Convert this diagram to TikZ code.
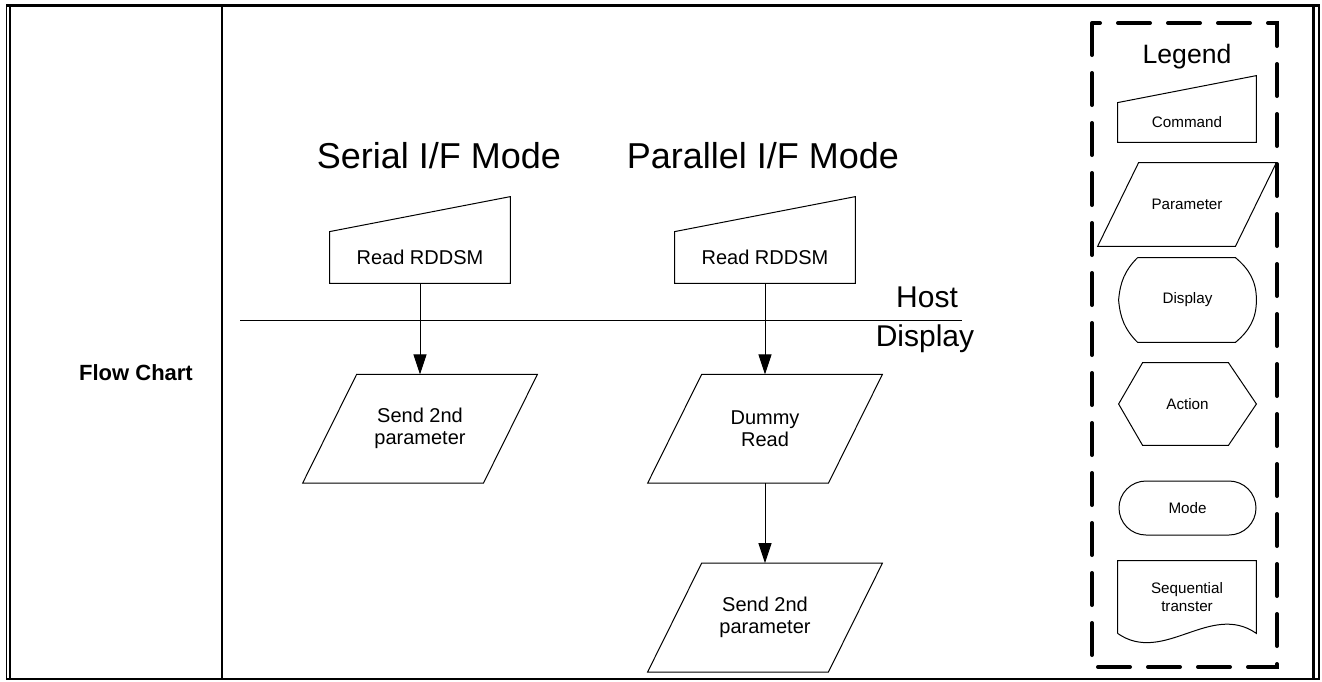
\documentclass[tikz,border=0pt]{standalone}
\usepackage{fontspec}
\setmainfont{Liberation Sans}
\usetikzlibrary{arrows.meta,positioning,shapes.misc}

\begin{document}
\begin{tikzpicture}[x=0.5pt, y=-0.5pt,
  every node/.style={align=center, inner sep=0pt, font=\fontsize{10}{11}\selectfont},
  outline/.style={draw, line width=0.5pt},
  flow/.style={-{Triangle[length=10pt, width=6.5pt]}, line width=0.5pt},
  small/.style={font=\fontsize{7.6}{9}\selectfont},
  cmdbox/.style n args={3}{minimum width=#1, minimum height=#2,
    append after command={\pgfextra{\draw[outline] (\tikzlastnode.south west) -- (\tikzlastnode.north west) -- ([yshift=#3]\tikzlastnode.north east) -- (\tikzlastnode.south east) -- cycle;}}},
  parambox/.style n args={3}{minimum width=#1, minimum height=#2,
    append after command={\pgfextra{\draw[outline] (\tikzlastnode.south west) -- ([xshift=-#3]\tikzlastnode.south east) -- (\tikzlastnode.north east) -- ([xshift=#3]\tikzlastnode.north west) -- cycle;}}},
  dispbox/.style={minimum width=68.5pt, minimum height=42pt,
    append after command={\pgfextra{\draw[outline] ([xshift=9.5pt]\tikzlastnode.north west) -- ([xshift=-10.5pt]\tikzlastnode.north east) to[out=-40,in=90] (\tikzlastnode.east) to[out=-90,in=40] ([xshift=-10.5pt]\tikzlastnode.south east) -- ([xshift=9.5pt]\tikzlastnode.south west) to[out=135,in=-85] (\tikzlastnode.west) to[out=85,in=-135] ([xshift=9.5pt]\tikzlastnode.north west);}}},
  actbox/.style={minimum width=68.5pt, minimum height=41pt,
    append after command={\pgfextra{\draw[outline] (\tikzlastnode.west) -- ([xshift=12pt]\tikzlastnode.north west) -- ([xshift=-14pt]\tikzlastnode.north east) -- (\tikzlastnode.east) -- ([xshift=-14pt]\tikzlastnode.south east) -- ([xshift=12pt]\tikzlastnode.south west) -- cycle;}}},
  modebox/.style={outline, rounded rectangle, minimum width=68.5pt, minimum height=27pt},
  docbox/.style={minimum width=69pt, minimum height=36pt,
    append after command={\pgfextra{\draw[outline] (\tikzlastnode.south west) -- (\tikzlastnode.north west) -- (\tikzlastnode.north east) -- (\tikzlastnode.south east) .. controls +(-23pt,16pt) and +(23pt,-16pt) .. (\tikzlastnode.south west);}}},
]
  \useasboundingbox (0,0) rectangle (1322,681);
  % table frame
  \draw[line width=1.5pt] (6,5.5) -- (1320,5.5);
  \draw[line width=0.9pt] (6.5,5) -- (6.5,680);
  \draw[line width=0.9pt] (10,5) -- (10,680);
  \draw[line width=1.3pt] (1313.5,5) -- (1313.5,680);
  \draw[line width=0.9pt] (1319,5) -- (1319,680);
  \draw[line width=1pt] (6,679.3) -- (1320,679.3);
  \draw[line width=1pt] (221.7,5) -- (221.7,679.3);
  \node[font=\bfseries\fontsize{11}{13}\selectfont] (fc) at (136,373) {Flow Chart};

  % modes
  \node[font=\fontsize{18}{21}\selectfont, anchor=base] (serial) at (439,168) {Serial I/F Mode};
  \node[font=\fontsize{18}{21}\selectfont, anchor=base] (parallel) at (763,168) {Parallel I/F Mode};
  \node[cmdbox={90pt}{25.5pt}{17.5pt}] (cmd1) at (420,257.5) {Read RDDSM};
  \node[cmdbox={90pt}{25.5pt}{17.5pt}] (cmd2) at (765,257.5) {Read RDDSM};
  \node[parambox={117pt}{54pt}{27pt}, below=45.5pt of cmd1] (par1) {Send 2nd\\parameter};
  \node[parambox={117pt}{54pt}{27pt}, below=45.5pt of cmd2] (dummy) {Dummy\\Read};
  \node[parambox={117pt}{54pt}{27pt}, below=40pt of dummy] (par3) {Send 2nd\\parameter};

  % host / display split
  \coordinate (splitL) at (240,320);
  \coordinate (splitR) at (962,320);
  \draw[outline] (splitL) -- (splitR);
  \node[font=\fontsize{15}{17}\selectfont, anchor=base] (host) at (927,307) {Host};
  \node[font=\fontsize{15}{17}\selectfont, anchor=base] (disp) at (925,346) {Display};
  \foreach \a/\b in {cmd1/par1,cmd2/dummy,dummy/par3}\draw[flow] (\a) -- (\b);

  % legend
  \draw[line width=2pt, dash pattern=on 16pt off 9pt, line cap=round] (1092,23) rectangle (1277,667);
  \node[font=\fontsize{13.3}{15}\selectfont, anchor=base] (legend) at (1187,63) {Legend};
  \node[small, cmdbox={69pt}{19.5pt}{13.5pt}] (lcmd) at (1187,122.5) {Command};
  \node[small, parambox={89pt}{41.5pt}{20.5pt}] (lpar) at (1187,204.5) {Parameter};
  \node[small, dispbox] (ldisp) at (1187.5,300) {Display};
  \node[small, actbox] (lact) at (1187.5,404) {Action};
  \node[small, modebox] (lmode) at (1187.5,508) {Mode};
  \node[small, docbox] (ldoc) at (1187,597) {Sequential\\transter};
\end{tikzpicture}
\end{document}
